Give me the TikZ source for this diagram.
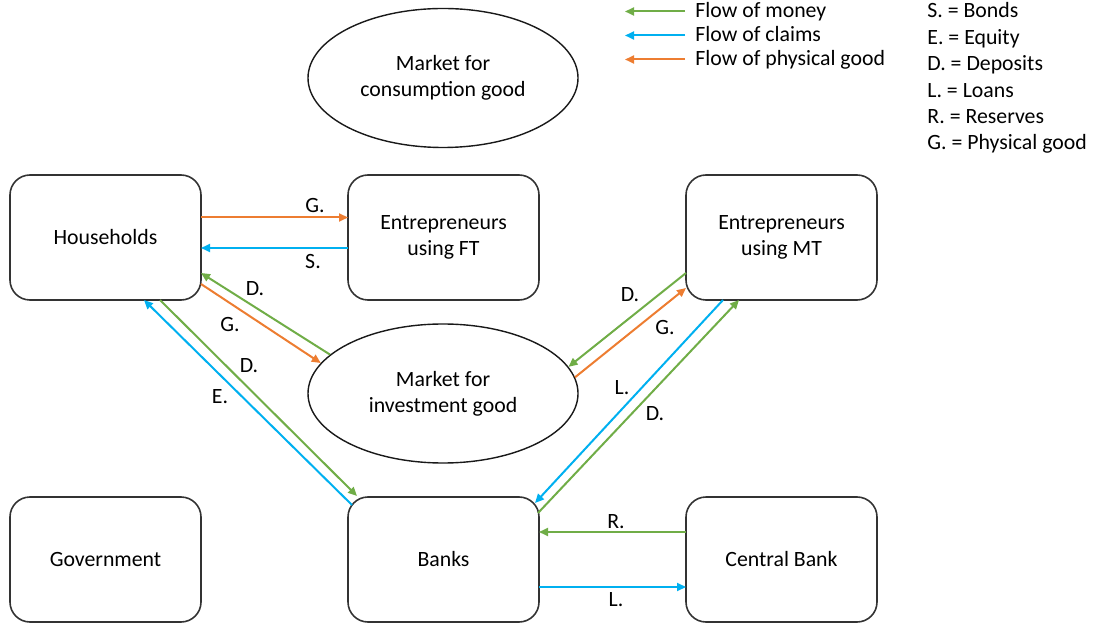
\documentclass[tikz,border=0pt]{standalone}
\usepackage{fontspec}
\setmainfont{Carlito}
\usetikzlibrary{
  arrows.meta,
  calc,
  shapes.geometric
}
\definecolor{moneygreen}{RGB}{112,173,71}
\definecolor{claimblue}{RGB}{0,176,240}
\definecolor{goodorange}{RGB}{237,125,49}
\tikzset{
  % For the rounded boxes of the sectors.
  sector/.style={
    draw=black!80,
    line width=0.8pt,
    rounded corners=10pt,
    minimum width=95.5pt,
    minimum height=62.5pt,
    outer sep=0pt,
    align=center},
%
  % For the two markets.
  market/.style={
    ellipse,
    draw=black!90,
    line width=0.7pt,
    minimum width=135pt,
    minimum height=69.5pt,
    inner sep=0pt,
    align=center},
%
  % For all flows, with one arrow at the end.
  flow/.style={
    line width=1pt,
    -{Triangle[length=4.5pt,width=4pt]}},
  money/.style={
    flow,
    draw=moneygreen},
  claims/.style={
    flow,
    draw=claimblue},
  goods/.style={
    flow,
    draw=goodorange},
%
  % For the short letters next to the flows.
  tag/.style={
    inner sep=0pt},
%
  % For the legend entries.
  legend/.style={
    inner sep=0pt,
    anchor=base west}
}

\begin{document}
\begin{tikzpicture}[x=0.5pt, y=-0.5pt, font=\fontsize{10.9pt}{13pt}\selectfont]
  \useasboundingbox (0,0) rectangle (1095,624);

  % sectors
  \node[sector] (hh) at (105.5,237.5) {Households};
  \node[sector] (ft) at (443.5,237.5) {Entrepreneurs\\using FT};
  \node[sector] (mt) at (781.5,237.5) {Entrepreneurs\\using MT};
  \node[sector] (gov) at (105.5,559.5) {Government};
  \node[sector] (bk) at (443.5,559.5) {Banks};
  \node[sector] (cb) at (781.5,559.5) {Central Bank};

  % markets
  \node[market] (mc) at (443,78) {Market for\\consumption good};
  \node[market] (mi) at (443,393.5) {Market for\\investment good};

  % households and entrepreneurs using FT
  \draw[goods] ($(hh.east)+(0,-20)$) -- ($(ft.west)+(0,-20)$);
  \draw[claims] ($(ft.west)+(0,10.5)$) -- ($(hh.east)+(0,10.5)$);

  % households, market and banks
  \draw[money] (mi.161) -- ($(hh.east)+(0,35.5)$);
  \draw[goods] ($(hh.east)+(0,46.5)$) -- (mi.166);
  \draw[money] ($(hh.south)+(54.5,0)$) -- ($(bk.north west)+(9,-1)$);
  \draw[claims] ($(bk.north west)+(4,8)$) -- ($(hh.south)+(38.5,0)$);

  % entrepreneurs using MT, market and banks
  \draw[money] ($(mt.west)+(0,35.5)$) -- (mi.12);
  \draw[goods] (mi.7) -- ($(mt.west)+(0,50.5)$);
  \draw[claims] ($(mt.south)+(-58.5,0)$) -- ($(bk.north east)+(-4,6)$);
  \draw[money] ($(bk.north east)+(-1,16)$) -- ($(mt.south)+(-42.5,0)$);

  % banks and central bank
  \draw[money] ($(cb.west)+(0,-27.5)$) -- ($(bk.east)+(0,-27.5)$);
  \draw[claims] ($(bk.east)+(0,27.5)$) -- ($(cb.west)+(0,27.5)$);

  % letters on the flows
  \node[tag] (tagG1) at (315,206) {G.};
  \node[tag] (tagS1) at (313,262) {S.};
  \node[tag] (tagD1) at (255,289) {D.};
  \node[tag] (tagG2) at (230,325) {G.};
  \node[tag] (tagD2) at (249,366) {D.};
  \node[tag] (tagE1) at (220,397) {E.};
  \node[tag] (tagD3) at (630,295) {D.};
  \node[tag] (tagG3) at (665,328) {G.};
  \node[tag] (tagL1) at (622,388) {L.};
  \node[tag] (tagD4) at (655,414) {D.};
  \node[tag] (tagR1) at (616,522) {R.};
  \node[tag] (tagL2) at (616,600) {L.};

  % legend of the flows
  \foreach \sty/\txt [count=\i] in
    {money/Flow of money, claims/Flow of claims, goods/Flow of physical good}
    {\node[legend] (flow\i) at (695,{18+24*(\i-1)}) {\txt};
     \draw[\sty] ($(flow\i.base west)+(-10,-6.5)$) -- ($(flow\i.base west)+(-70,-6.5)$);
    }

  % legend of the letters
  \foreach \txt [count=\i] in
    {S. = Bonds, E. = Equity, D. = Deposits, L. = Loans, R. = Reserves,
     G. = Physical good}
    {\node[legend] (abbr\i) at (927,{18+26.4*(\i-1)}) {\txt};}
\end{tikzpicture}
\end{document}
